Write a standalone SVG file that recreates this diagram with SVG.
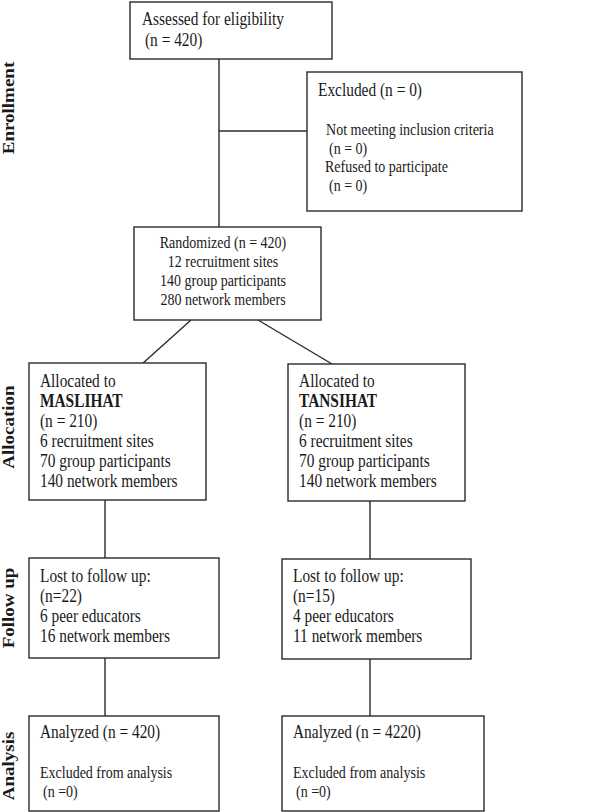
<svg xmlns="http://www.w3.org/2000/svg" width="600" height="812" viewBox="0 0 600 812">
<style>
.box{fill:#fff;stroke:#2a2a2a;stroke-width:1.4}
.ln{fill:none;stroke:#2a2a2a;stroke-width:1.4}
text{font-family:"Liberation Serif","Times New Roman",serif;fill:#1a1a1a}
.m{font-size:17.9px}
.s{font-size:16.3px}
.b{font-weight:bold}
.side{font-size:19px;font-weight:bold;text-anchor:middle}
.c{text-anchor:middle}
</style>
<rect width="600" height="812" fill="#fff"/>
<g id="connectors">
<line class="ln" x1="219" y1="59" x2="219" y2="227"/>
<line class="ln" x1="219" y1="131" x2="307" y2="131"/>
<line class="ln" x1="191" y1="320" x2="142" y2="364"/>
<line class="ln" x1="258" y1="320" x2="332" y2="364"/>
<line class="ln" x1="105" y1="500" x2="105" y2="558"/>
<line class="ln" x1="370" y1="501" x2="370" y2="559"/>
<line class="ln" x1="105" y1="658" x2="105" y2="716"/>
<line class="ln" x1="370" y1="659" x2="370" y2="716"/>
</g>
<g id="assessed"><rect class="box" x="130" y="2" width="202" height="57"/></g>
<g id="excluded"><rect class="box" x="307" y="72" width="215" height="139"/></g>
<g id="randomized"><rect class="box" x="134" y="227" width="187" height="93"/></g>
<g id="alloc-maslihat"><rect class="box" x="29" y="363" width="177" height="137"/></g>
<g id="alloc-tansihat"><rect class="box" x="288" y="364" width="177" height="137"/></g>
<g id="follow-maslihat"><rect class="box" x="29" y="558" width="190" height="100"/></g>
<g id="follow-tansihat"><rect class="box" x="282" y="559" width="189" height="100"/></g>
<g id="analysis-maslihat"><rect class="box" x="29" y="716" width="190" height="95"/></g>
<g id="analysis-tansihat"><rect class="box" x="282" y="716" width="202" height="95"/></g>
<g id="labels" transform="scale(0.86,1)">
<text class="m" x="165.1" y="25">Assessed for eligibility</text>
<text class="m" x="168.6" y="46">(n = 420)</text>
<text class="m" x="369.8" y="96">Excluded (n = 0)</text>
<text class="s" x="379.1" y="135">Not meeting inclusion criteria</text>
<text class="s" x="382.6" y="154">(n = 0)</text>
<text class="s" x="377.9" y="172">Refused to participate</text>
<text class="s" x="382.6" y="191">(n = 0)</text>
<text class="s c" x="259.3" y="248">Randomized (n = 420)</text>
<text class="s c" x="259.3" y="267">12 recruitment sites</text>
<text class="s c" x="259.3" y="286">140 group participants</text>
<text class="s c" x="259.3" y="305">280 network members</text>
<text class="m" x="46.5" y="387">Allocated to</text>
<text class="m b" x="46.5" y="407">MASLIHAT</text>
<text class="m" x="46.5" y="427">(n = 210)</text>
<text class="m" x="46.5" y="447">6 recruitment sites</text>
<text class="m" x="46.5" y="467">70 group participants</text>
<text class="m" x="46.5" y="487">140 network members</text>
<text class="m" x="347.7" y="387">Allocated to</text>
<text class="m b" x="347.7" y="407">TANSIHAT</text>
<text class="m" x="347.7" y="427">(n = 210)</text>
<text class="m" x="347.7" y="447">6 recruitment sites</text>
<text class="m" x="347.7" y="467">70 group participants</text>
<text class="m" x="347.7" y="487">140 network members</text>
<text class="m" x="46.5" y="582">Lost to follow up:</text>
<text class="m" x="46.5" y="602">(n=22)</text>
<text class="m" x="46.5" y="622">6 peer educators</text>
<text class="m" x="46.5" y="642">16 network members</text>
<text class="m" x="340.7" y="582">Lost to follow up:</text>
<text class="m" x="340.7" y="602">(n=15)</text>
<text class="m" x="340.7" y="622">4 peer educators</text>
<text class="m" x="340.7" y="642">11 network members</text>
<text class="m" x="46.5" y="738">Analyzed (n = 420)</text>
<text class="s" x="46.5" y="778">Excluded from analysis</text>
<text class="s" x="50" y="797">(n =0)</text>
<text class="m" x="340.7" y="738">Analyzed (n = 4220)</text>
<text class="s" x="340.7" y="778">Excluded from analysis</text>
<text class="s" x="344.2" y="797">(n =0)</text>
<text class="side" transform="translate(16.5,108) rotate(-90)">Enrollment</text>
<text class="side" transform="translate(16.5,427) rotate(-90)">Allocation</text>
<text class="side" transform="translate(16.5,608) rotate(-90)">Follow up</text>
<text class="side" transform="translate(16.5,766) rotate(-90)">Analysis</text>
</g>
</svg>
